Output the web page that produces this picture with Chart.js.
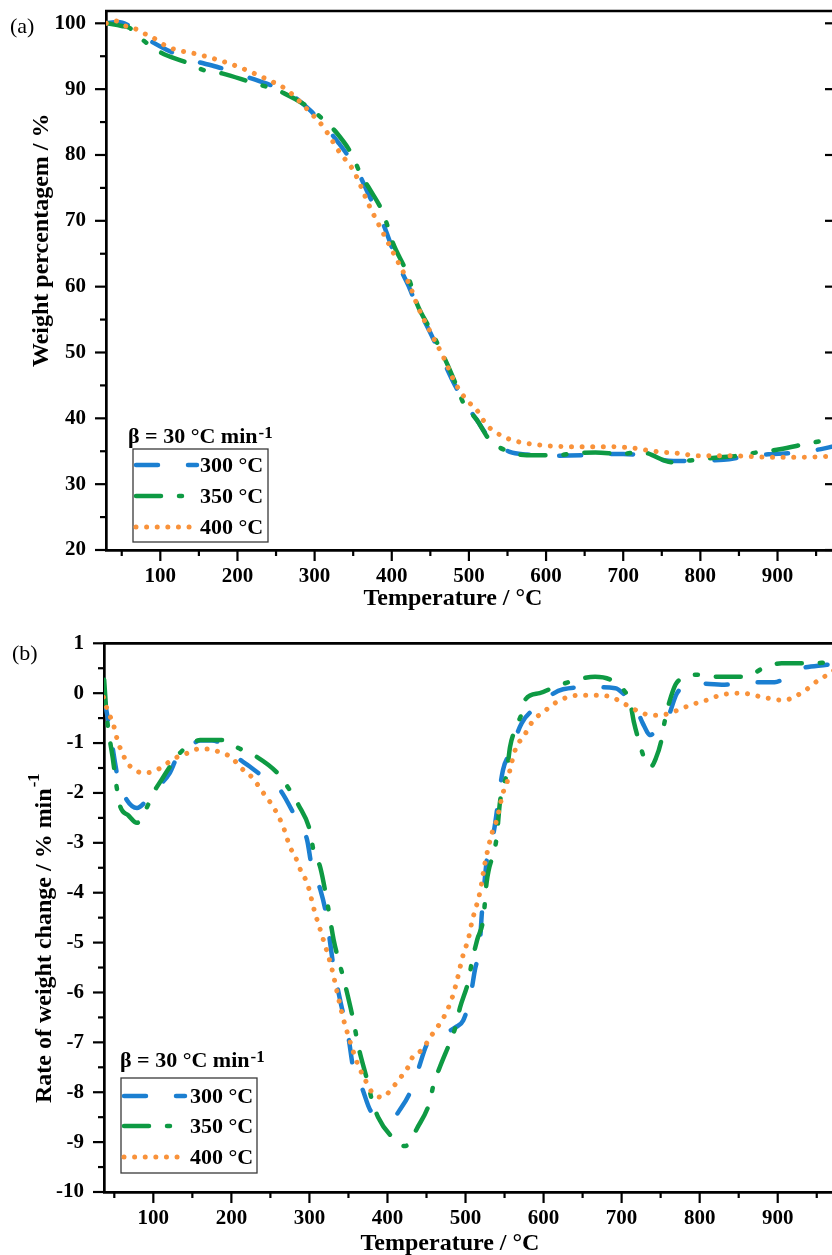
<!DOCTYPE html>
<html><head><meta charset="utf-8">
<script src="https://cdn.jsdelivr.net/npm/chart.js@4.4.1/dist/chart.umd.min.js"></script>
<style>
html,body{margin:0;padding:0;background:#fff;overflow:hidden;width:832px;height:1255px;}
#wrap{position:relative;width:832px;height:1255px;overflow:hidden;background:#fff;}
canvas{position:absolute;left:0;}
#c1{top:0;} #c2{top:615px;}
</style></head><body>
<div id="wrap"><canvas id="c1" width="845" height="615"></canvas><canvas id="c2" width="845" height="640"></canvas></div>
<script>
// ---------- DATA ----------
const seriesLabels = ['300 °C', '350 °C', '400 °C'];

// (a) TGA: weight percentage vs temperature
const tgaT300 = [30,45,60,78,108,141,173,206,236,264,294,310,330,355,372,389,408,421,433,450,467,482,497,510,527,553,575,614,650,680,700,722,765,800,830,868,901,935,976];
const tgaW300 = [100,100.2,99.6,98,96,94.4,93.4,92.1,90.9,89.6,86.8,84.8,82,77.7,73.5,69.5,63.5,60.3,57,53,48.7,45,42,39.8,36.9,34.9,34.5,34.3,34.4,34.6,34.6,34.4,33.5,33.6,33.7,34.4,34.6,34.9,35.8];
const tgaT350 = [30,50,60,78,100,135,156,180,219,242,260,294,309,329,350,359,372,389,402,420,433,450,467,482,493,510,527,553,575,614,636,664,698,722,765,787,826,848,877,903,940,964,976];
const tgaW350 = [100,99.6,99.3,97.4,95.6,94,92.9,92.4,91,90.2,89.4,87.1,85.6,83.3,79.7,77.2,74.7,71.1,66.5,62,57.3,53.5,49.5,45.5,42.3,39.8,36.7,34.9,34.4,34.4,34.7,34.8,34.6,34.9,33.3,33.6,34.1,34.3,34.9,35.3,36.2,36.7,37.0];
const tgaT400 = [30,41,52,65,78,88,110,152,194,240,264,294,311,333,350,372,389,407,424,433,450,467,482,497,510,523,545,562,588,627,670,713,739,770,799,842,886,929,961,976];
const tgaW400 = [100,100.4,99.7,99.3,98.5,98,96.4,95.2,93.7,91.4,89.9,86.5,84.3,80.3,77.7,72,68.1,64,60,57.2,53.1,49.3,45.4,42.8,41.3,39,37.2,36.5,36,35.7,35.7,35.5,35,34.7,34.3,34.3,34.1,34.1,34.2,34.3];

// (b) DTG: rate of weight change vs temperature
const dtgT300 = [37,45,51,55,66,79,92,106,121,130,145,160,175,190,211,226,241,262,282,297,303,314,322,326,331,340,350,356,367,380,393,407,418,429,439,452,465,476,487,497,506,512,518,521,529,535,548,557,572,591,625,660,692,705,717,727,737,745,758,771,793,832,862,896,924,963,980];
const dtgR300 = [-0.1,-0.8,-1.4,-1.74,-2.14,-2.3,-2.14,-1.88,-1.6,-1.3,-1.1,-0.95,-0.95,-1.03,-1.33,-1.5,-1.68,-1.93,-2.48,-2.94,-3.48,-3.94,-4.48,-4.94,-5.5,-6.2,-6.9,-7.5,-7.9,-8.4,-8.45,-8.5,-8.3,-8.0,-7.56,-7.0,-6.9,-6.8,-6.7,-6.56,-6.1,-5.55,-5.08,-4.4,-3.14,-2.88,-1.54,-1.2,-0.6,-0.28,0.08,0.12,0.1,-0.05,-0.24,-0.6,-0.84,-0.72,-0.54,0.0,0.2,0.17,0.22,0.22,0.47,0.57,0.6];
const dtgT350 = [37,40,44,48,53,57,68,79,92,100,110,121,134,145,160,175,190,209,233,259,273,286,301,305,314,324,331,345,356,363,374,380,388,406,422,429,437,454,459,467,480,487,493,504,508,515,523,527,540,544,553,557,565,572,576,595,615,643,666,695,711,716,722,729,737,744,751,755,760,771,797,822,860,881,905,945,967,980];
const dtgR350 = [0.27,-0.4,-0.9,-1.3,-1.88,-2.24,-2.45,-2.6,-2.28,-2.0,-1.75,-1.48,-1.2,-1.05,-0.94,-0.94,-0.94,-1.1,-1.28,-1.6,-1.9,-2.24,-2.78,-3.14,-3.5,-4.3,-4.94,-5.8,-6.54,-7.1,-7.76,-8.15,-8.5,-8.9,-9.08,-9.0,-8.75,-8.2,-7.85,-7.5,-7.0,-6.7,-6.3,-5.75,-5.4,-4.94,-4.5,-3.8,-2.88,-2.2,-1.58,-1.08,-0.68,-0.4,-0.14,0.0,0.13,0.27,0.33,0.17,-0.2,-0.6,-0.95,-1.3,-1.48,-1.3,-0.94,-0.58,-0.24,0.22,0.37,0.33,0.33,0.5,0.6,0.6,0.62,0.62];
const dtgT400 = [36,40,44,49,55,60,65,73,87,98,109,120,132,144,157,170,183,201,211,226,241,256,267,275,282,290,297,303,307,311,316,329,337,343,350,356,362,373,380,393,403,411,419,427,432,444,459,472,483,490,496,504,508,519,525,534,540,548,553,559,565,574,587,598,621,647,672,687,700,711,724,737,750,762,775,788,800,813,826,854,881,907,932,952,967,980];
const dtgR400 = [-0.08,-0.28,-0.44,-0.64,-1.0,-1.18,-1.36,-1.5,-1.6,-1.58,-1.5,-1.38,-1.27,-1.2,-1.12,-1.12,-1.17,-1.3,-1.48,-1.68,-2.0,-2.34,-2.7,-3.08,-3.28,-3.6,-3.8,-4.15,-4.4,-4.6,-4.85,-5.54,-6.1,-6.5,-6.88,-7.18,-7.44,-7.8,-8.0,-8.1,-7.98,-7.82,-7.66,-7.48,-7.3,-7.15,-6.8,-6.5,-6.1,-5.7,-5.3,-4.9,-4.6,-3.95,-3.4,-2.8,-2.54,-2.0,-1.8,-1.4,-1.08,-0.88,-0.54,-0.4,-0.14,-0.04,-0.04,-0.08,-0.18,-0.28,-0.38,-0.44,-0.44,-0.4,-0.32,-0.24,-0.18,-0.12,-0.04,0.0,-0.08,-0.14,0.02,0.26,0.4,0.55];

// tick values
const tempTicks = [100,200,300,400,500,600,700,800,900];
const tempMinorTicks = [50,150,250,350,450,550,650,750,850,950];
const weightTicks = [20,30,40,50,60,70,80,90,100];
const weightMinorTicks = [25,35,45,55,65,75,85,95];
const rateTicks = [-10,-9,-8,-7,-6,-5,-4,-3,-2,-1,0,1];
const rateMinorTicks = [-9.5,-8.5,-7.5,-6.5,-5.5,-4.5,-3.5,-2.5,-1.5,-0.5,0.5];

// ---------- STYLE ----------
const FONT = '"Liberation Serif", "Times New Roman", serif';
const colors = ['#1b7fd1', '#0e9a43', '#f9923a'];
const dashes = [[22, 30], [25, 18, 3, 18], [0.01, 10.6]];
const widths = [4.5, 4.5, 5];

const pts = (xs, ys) => xs.map((x, i) => ({x, y: ys[i]}));

function makeDatasets(pairs) {
  return pairs.map((p, i) => ({
    label: seriesLabels[i],
    data: pts(p[0], p[1]),
    borderColor: colors[i],
    borderDash: dashes[i],
    borderWidth: widths[i],
    borderCapStyle: 'round',
    borderJoinStyle: 'round',
    fill: false,
    pointRadius: 0,
    cubicInterpolationMode: 'monotone',
    order: 3 - i
  }));
}

const decorPlugin = {
  id: 'decor',
  afterDraw(chart, _args, o) {
    const ctx = chart.ctx, a = chart.chartArea, xs = chart.scales.x, ys = chart.scales.y;
    ctx.save();
    ctx.strokeStyle = '#000';
    ctx.lineCap = 'butt';
    ctx.lineWidth = 2.7;
    ctx.beginPath();
    ctx.moveTo(a.left - 1, a.top); ctx.lineTo(a.right, a.top); ctx.lineTo(a.right, a.bottom);
    ctx.stroke();
    ctx.lineWidth = 2.2;
    const seg = (x1, y1, x2, y2) => { ctx.beginPath(); ctx.moveTo(x1, y1); ctx.lineTo(x2, y2); ctx.stroke(); };
    o.xMajor.forEach(v => { const p = xs.getPixelForValue(v); seg(p, a.bottom, p, a.bottom + 11); });
    o.xMinor.forEach(v => { const p = xs.getPixelForValue(v); if (p < a.right - 2) seg(p, a.bottom, p, a.bottom + 6); });
    o.yMajor.forEach(v => { const p = ys.getPixelForValue(v); seg(a.left - 11, p, a.left, p); if (o.rightTicks) seg(a.right - 11, p, a.right, p); });
    o.yMinor.forEach(v => { const p = ys.getPixelForValue(v); seg(a.left - 6, p, a.left, p); });

    ctx.fillStyle = '#000';
    // panel label
    ctx.font = '22px ' + FONT;
    ctx.textAlign = 'left'; ctx.textBaseline = 'alphabetic';
    ctx.fillText(o.panel.text, o.panel.x, o.panel.y);
    // x title
    ctx.font = 'bold 24px ' + FONT;
    ctx.textAlign = 'center';
    ctx.fillText(o.xTitle.text, o.xTitle.x, o.xTitle.y);
    // y title
    ctx.save();
    ctx.translate(o.yTitle.x, o.yTitle.y);
    ctx.rotate(-Math.PI / 2);
    ctx.textAlign = 'left';
    ctx.fillText(o.yTitle.text, 0, 0);
    if (o.yTitle.sup) {
      const w = ctx.measureText(o.yTitle.text).width;
      ctx.font = 'bold 17px ' + FONT;
      ctx.fillText(o.yTitle.sup, w + 1, -12);
    }
    ctx.restore();

    // legend
    const L = o.legend;
    ctx.font = 'bold 22px ' + FONT;
    ctx.textAlign = 'left'; ctx.textBaseline = 'alphabetic';
    ctx.fillText(L.title, L.titleX, L.titleY);
    const tw = ctx.measureText(L.title).width;
    ctx.font = 'bold 17px ' + FONT;
    ctx.fillText(L.sup, L.titleX + tw + 1, L.titleY - 5);
    ctx.strokeStyle = '#3a3a3a'; ctx.lineWidth = 1.3;
    ctx.strokeRect(L.x, L.y, L.w, L.h);
    chart.data.datasets.forEach((ds, i) => {
      const yy = L.rows[i];
      ctx.save();
      ctx.strokeStyle = ds.borderColor; ctx.lineWidth = ds.borderWidth;
      ctx.lineCap = 'round'; ctx.setLineDash(ds.borderDash);
      ctx.beginPath(); ctx.moveTo(L.x + 3, yy); ctx.lineTo(L.x + L.sample, yy); ctx.stroke();
      ctx.restore();
      ctx.font = 'bold 22px ' + FONT;
      ctx.textBaseline = 'middle';
      ctx.fillText(ds.label, L.textX, yy + 1);
    });
    ctx.restore();
  }
};

const tickFont = {family: FONT, weight: 'bold', size: 21};
const zeroPad = s => { s.paddingTop = 0; s.paddingBottom = 0; s.paddingLeft = 0; s.paddingRight = 0; };

function makeChart(id, c) {
  return new Chart(document.getElementById(id), {
    type: 'line',
    data: {datasets: c.datasets},
    options: {
      responsive: false, animation: false, devicePixelRatio: 1,
      layout: {padding: c.padding, autoPadding: false},
      plugins: {legend: {display: false}, tooltip: {enabled: false}, title: {display: false}, decor: c.decor},
      scales: {
        x: {
          type: 'linear', min: c.xMin, max: c.xMax,
          grid: {display: false, drawTicks: false},
          border: {display: true, color: '#000', width: 2.7},
          ticks: {font: tickFont, color: '#000', padding: 14, autoSkip: false, maxRotation: 0, callback: v => String(v)},
          afterBuildTicks: s => { s.ticks = c.decor.xMajor.map(v => ({value: v})); },
          afterFit: s => { s.height = c.xHeight; zeroPad(s); }
        },
        y: {
          type: 'linear', min: c.yMin, max: c.yMax,
          grid: {display: false, drawTicks: false},
          border: {display: true, color: '#000', width: 2.7},
          ticks: {font: tickFont, color: '#000', padding: 20, autoSkip: false, callback: v => String(v)},
          afterBuildTicks: s => { s.ticks = c.decor.yMajor.map(v => ({value: v})); },
          afterFit: s => { s.width = c.yWidth; zeroPad(s); }
        }
      }
    },
    plugins: [decorPlugin]
  });
}

makeChart('c1', {
  datasets: makeDatasets([[tgaT300, tgaW300], [tgaT350, tgaW350], [tgaT400, tgaW400]]),
  padding: {top: 11, right: 9, left: 0, bottom: 0},
  xMin: 29.6, xMax: 975.8, yMin: 20, yMax: 101.87,
  xHeight: 65, yWidth: 106,
  decor: {
    xMajor: tempTicks, xMinor: tempMinorTicks, yMajor: weightTicks, yMinor: weightMinorTicks, rightTicks: true,
    panel: {text: '(a)', x: 10, y: 33},
    xTitle: {text: 'Temperature / °C', x: 453, y: 605},
    yTitle: {text: 'Weight percentagem / %', x: 48, y: 367},
    legend: {title: 'β = 30 °C min', sup: '-1', titleX: 128, titleY: 443, x: 133, y: 449, w: 135, h: 93, rows: [465, 496, 527], sample: 64, textX: 200}
  }
});

makeChart('c2', {
  datasets: makeDatasets([[dtgT300, dtgR300], [dtgT350, dtgR350], [dtgT400, dtgR400]]),
  padding: {top: 28.3, right: 5, left: 0, bottom: 0},
  xMin: 36.8, xMax: 979.8, yMin: -10, yMax: 1,
  xHeight: 63, yWidth: 104,
  decor: {
    xMajor: tempTicks, xMinor: tempMinorTicks, yMajor: rateTicks, yMinor: rateMinorTicks, rightTicks: false,
    panel: {text: '(b)', x: 12, y: 45},
    xTitle: {text: 'Temperature / °C', x: 450, y: 635},
    yTitle: {text: 'Rate of weight change / % min', sup: '-1', x: 51, y: 488},
    legend: {title: 'β = 30 °C min', sup: '-1', titleX: 120, titleY: 452, x: 121, y: 463, w: 136, h: 95, rows: [481, 511, 542], sample: 64, textX: 190}
  }
});
</script>
</body></html>
